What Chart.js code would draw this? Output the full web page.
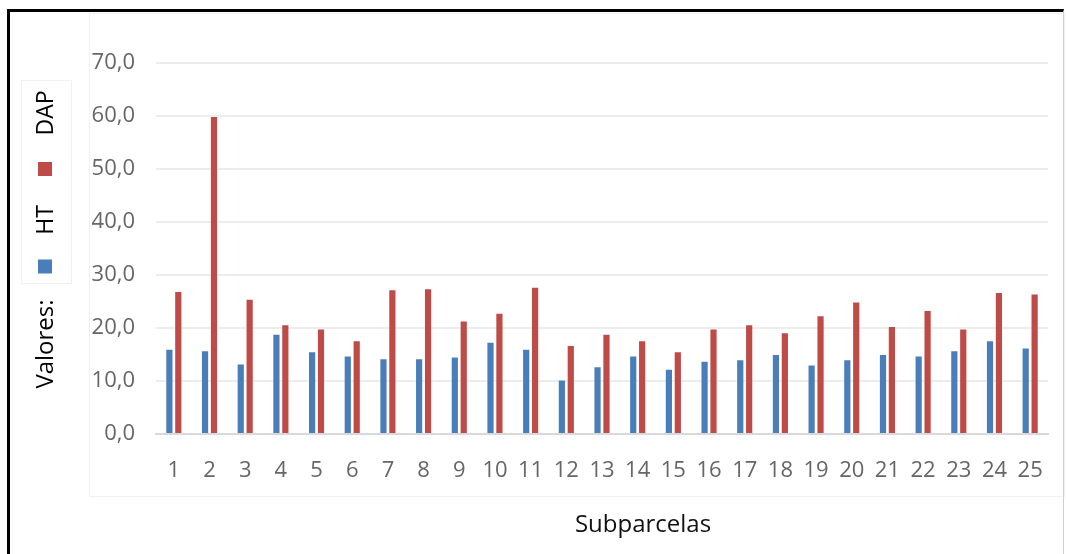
<!DOCTYPE html>
<html>
<head>
<meta charset="utf-8">
<script src="https://cdn.jsdelivr.net/npm/chart.js@4.4.1/dist/chart.umd.min.js"></script>
<style>
  html, body { margin: 0; padding: 0; background: #fff; }
  #wrap { position: relative; width: 1066px; height: 554px; overflow: hidden; }
  #frame {
    position: absolute; left: 7px; top: 9px; right: 2px; bottom: -6px;
    border-top: 3px solid #000; border-left: 3px solid #000; border-right: 1px solid #cfcfcf;
    pointer-events: none;
  }
  canvas { display: block; }
</style>
</head>
<body>
<div id="wrap">
  <canvas id="chart" width="1066" height="554"></canvas>
  <div id="frame"></div>
</div>
<script>
// Subplot numbers and the two measured series
const subparcelas = ['1','2','3','4','5','6','7','8','9','10','11','12','13','14','15','16','17','18','19','20','21','22','23','24','25'];
const htValues  = [16.1, 15.8, 13.3, 18.9, 15.6, 14.8, 14.3, 14.3, 14.6, 17.4, 16.1, 10.3, 12.8, 14.8, 12.3, 13.8, 14.1, 15.1, 13.1, 14.1, 15.1, 14.8, 15.8, 17.7, 16.3];
const dapValues = [27.0, 60.0, 25.5, 20.7, 19.9, 17.7, 27.3, 27.5, 21.4, 22.9, 27.8, 16.8, 18.9, 17.7, 15.6, 19.9, 20.7, 19.2, 22.4, 25.0, 20.4, 23.4, 19.9, 26.8, 26.5];
const yTickValues = [0, 10, 20, 30, 40, 50, 60, 70];
const seriesNames = ['HT', 'DAP'];
const yAxisTitle = 'Valores:';
const xAxisTitle = 'Subparcelas';

const BLUE = '#4a7ebb';
const RED = '#be4b48';
const FONT = '"Open Sans", "Noto Sans", sans-serif';

// Comma decimal separator for the value axis
const fmt = v => v.toFixed(1).replace('.', ',');

// Vertical legend + axis titles, drawn rotated along the left edge
const sideLegend = {
  id: 'sideLegend',
  beforeDraw(chart) {
    const ctx = chart.ctx;
    ctx.save();
    ctx.strokeStyle = '#f1f1f1';
    ctx.lineWidth = 1;
    ctx.strokeRect(89.5, 13.5, 975, 483);
    ctx.strokeRect(21.5, 80.5, 50, 203);
    ctx.restore();
  },
  afterDraw(chart) {
    const ctx = chart.ctx;
    const ds = chart.data.datasets;
    const cx = 45;
    const put = (y, fn) => {
      ctx.save();
      ctx.translate(cx, y);
      ctx.rotate(-Math.PI / 2);
      fn();
      ctx.restore();
    };
    ctx.save();
    ctx.font = '24px ' + FONT;
    ctx.textAlign = 'center';
    ctx.textBaseline = 'middle';
    ctx.fillStyle = '#000';
    put(344, () => ctx.fillText(yAxisTitle, 0, 1));
    ctx.font = '23px ' + FONT;
    put(266.5, () => { ctx.fillStyle = ds[0].backgroundColor; ctx.fillRect(-7, -7, 14, 14); });
    put(220, () => { ctx.fillStyle = '#000'; ctx.fillText(ds[0].label, 0, 1); });
    put(169, () => { ctx.fillStyle = ds[1].backgroundColor; ctx.fillRect(-7, -7, 14, 14); });
    put(113, () => { ctx.fillStyle = '#000'; ctx.fillText(ds[1].label, 0, 1); });

    // category axis title
    ctx.font = '24px ' + FONT;
    ctx.fillStyle = '#111';
    ctx.fillText(xAxisTitle, 643, 525);
    ctx.restore();
  }
};

new Chart(document.getElementById('chart'), {
  type: 'bar',
  data: {
    labels: subparcelas,
    datasets: [
      { label: seriesNames[0], data: htValues, backgroundColor: BLUE,
        borderColor: 'rgba(255,255,255,0.45)', borderWidth: 1,
        categoryPercentage: 0.5, barPercentage: 0.92 },
      { label: seriesNames[1], data: dapValues, backgroundColor: RED,
        borderColor: 'rgba(255,255,255,0.45)', borderWidth: 1,
        categoryPercentage: 0.5, barPercentage: 0.92 }
    ]
  },
  options: {
    responsive: false,
    animation: false,
    layout: { padding: { top: 63, right: 18, bottom: 0, left: 0 } },
    plugins: {
      legend: { display: false },
      tooltip: { enabled: false }
    },
    scales: {
      x: {
        grid: { display: false },
        border: { display: true, color: '#d9d9d9', width: 2 },
        ticks: {
          color: '#666',
          font: { family: FONT, size: 22 },
          padding: 16,
          autoSkip: false,
          maxRotation: 0,
          minRotation: 0
        },
        afterFit(scale) { scale.height = 120; }
      },
      y: {
        min: yTickValues[0],
        max: yTickValues[yTickValues.length - 1],
        afterBuildTicks(scale) { scale.ticks = yTickValues.map(v => ({ value: v })); },
        ticks: {
          color: '#666',
          font: { family: FONT, size: 22 },
          padding: 21,
          callback: v => fmt(v)
        },
        grid: {
          color: ctx => ctx.tick && ctx.tick.value === 0 ? '#d9d9d9' : '#ececec',
          lineWidth: 2,
          drawTicks: false
        },
        border: { display: false },
        afterFit(scale) { scale.width = 156; }
      }
    }
  },
  plugins: [sideLegend]
});
</script>
</body>
</html>
